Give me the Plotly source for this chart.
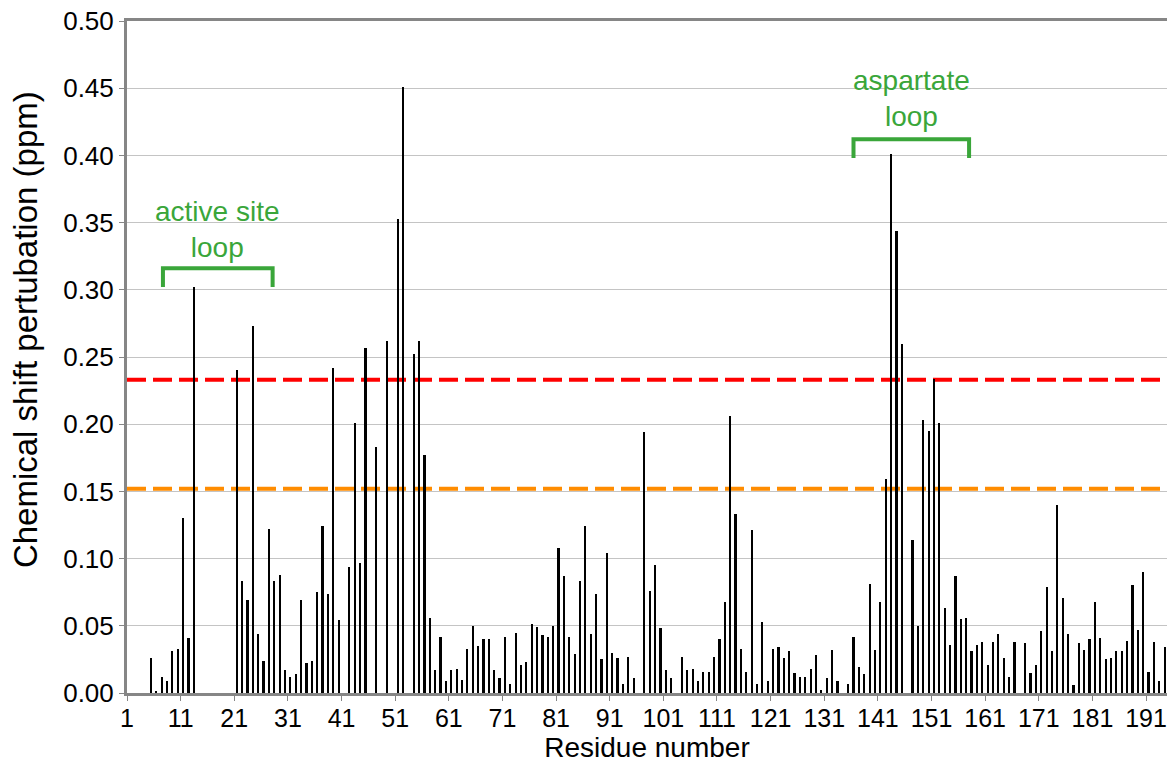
import plotly.graph_objects as go

# ---- data ----
residues = [5, 6, 7, 8, 9, 10, 11, 12, 13,
            21, 22, 23, 24, 25, 26, 27, 28, 29, 30, 31, 32, 33, 34, 35, 36, 37, 38, 39, 40,
            42, 43, 44, 45, 47, 49, 51, 52, 54, 55, 56, 57, 58, 59, 60,
            61, 62, 63, 64, 65, 66, 67, 68, 69, 70, 71, 72, 73, 74, 75, 76, 77, 78, 79, 80,
            81, 82, 83, 84, 85, 86, 87, 88, 89, 90, 91, 92, 93, 94, 95, 97, 98, 99, 100,
            101, 102, 104, 105, 106, 107, 108, 109, 110, 111, 112, 113, 114, 115, 116, 117, 118, 119, 120,
            121, 122, 123, 124, 125, 126, 127, 128, 129, 130, 131, 132, 133, 135, 136, 137, 138, 139, 140,
            141, 142, 143, 144, 145, 147, 148, 149, 150, 151, 152, 153, 154, 155, 156, 157, 158, 159, 160,
            161, 162, 163, 164, 165, 166, 168, 169, 170, 171, 172, 173, 174, 175, 176, 177, 178, 179, 180,
            181, 182, 183, 184, 185, 186, 187, 188, 189, 190, 191, 192, 193, 194]
shifts = [0.026, 0.001, 0.012, 0.009, 0.031, 0.033, 0.130, 0.041, 0.302,
          0.240, 0.083, 0.069, 0.273, 0.044, 0.024, 0.122, 0.083, 0.088, 0.017, 0.012, 0.014, 0.069, 0.022, 0.024, 0.075, 0.124, 0.074, 0.242, 0.054,
          0.094, 0.201, 0.097, 0.257, 0.183, 0.262, 0.353, 0.451, 0.252, 0.262, 0.177, 0.056, 0.017, 0.042, 0.009,
          0.017, 0.018, 0.010, 0.033, 0.050, 0.035, 0.040, 0.040, 0.017, 0.011, 0.042, 0.007, 0.045, 0.021, 0.023, 0.051, 0.049, 0.043, 0.042, 0.050,
          0.108, 0.087, 0.042, 0.029, 0.083, 0.124, 0.044, 0.074, 0.025, 0.104, 0.030, 0.026, 0.007, 0.027, 0.011, 0.194, 0.076, 0.095, 0.048,
          0.017, 0.011, 0.027, 0.017, 0.018, 0.009, 0.016, 0.016, 0.027, 0.040, 0.068, 0.206, 0.133, 0.033, 0.016, 0.121, 0.007, 0.053, 0.009,
          0.033, 0.034, 0.026, 0.031, 0.015, 0.012, 0.012, 0.018, 0.028, 0.002, 0.011, 0.032, 0.009, 0.007, 0.042, 0.019, 0.014, 0.081, 0.032,
          0.068, 0.159, 0.401, 0.344, 0.260, 0.114, 0.050, 0.203, 0.195, 0.234, 0.201, 0.063, 0.036, 0.087, 0.055, 0.056, 0.031, 0.036, 0.038,
          0.021, 0.038, 0.044, 0.026, 0.012, 0.038, 0.037, 0.015, 0.021, 0.046, 0.079, 0.031, 0.140, 0.071, 0.044, 0.006, 0.037, 0.032, 0.040,
          0.068, 0.041, 0.025, 0.026, 0.031, 0.031, 0.039, 0.080, 0.047, 0.090, 0.016, 0.038, 0.009, 0.034]

threshold_high = 0.233   # red dashed
threshold_low = 0.152    # orange dashed

tick_labels = [str(v) for v in range(1, 192, 10)]
tick_positions = [v - 0.5 for v in range(1, 192, 10)]
y_ticks = [round(i * 0.05, 2) for i in range(11)]

x_title = "Residue number"
y_title = "Chemical shift pertubation (ppm)"

regions = [
    # label, start, end, bracket top, bracket foot, text y
    ("active site<br>loop", 7.2, 27.65, 0.316, 0.302, 0.345),
    ("aspartate<br>loop", 135.95, 157.5, 0.412, 0.398, 0.442),
]

FONT = "Liberation Sans, Arial, sans-serif"
GREEN = "#3aa63a"

fig = go.Figure()
fig.add_trace(go.Bar(x=residues, y=shifts, width=0.32,
                     marker=dict(color="black", line=dict(width=0)),
                     showlegend=False, hoverinfo="skip"))

for yv, col in [(threshold_high, "#ff0000"), (threshold_low, "#ff8c00")]:
    fig.add_shape(type="line", xref="paper", yref="y", x0=0, x1=1, y0=yv, y1=yv,
                  line=dict(color=col, width=4, dash="19px,7px"), layer="between")

for label, x0, x1, ytop, yfoot, ytext in regions:
    fig.add_shape(type="path", xref="x", yref="y",
                  path=f"M {x0},{yfoot} L {x0},{ytop} L {x1},{ytop} L {x1},{yfoot}",
                  line=dict(color=GREEN, width=4), layer="above")
    fig.add_annotation(x=(x0 + x1) / 2, y=ytext, xref="x", yref="y", text=label,
                       showarrow=False, font=dict(family=FONT, size=28, color=GREEN),
                       xanchor="center", yanchor="middle", align="center")

# y axis title (placed slightly above the plot centre, as in the reference)
fig.add_annotation(x=0, y=0.54, xref="paper", yref="paper", xshift=-102,
                   text=y_title, textangle=-90, showarrow=False,
                   font=dict(family=FONT, size=33, color="black"),
                   xanchor="center", yanchor="middle")

fig.update_layout(
    width=1167, height=766,
    margin=dict(l=127, r=0, t=21, b=73),
    plot_bgcolor="white", paper_bgcolor="white",
    font=dict(family=FONT, size=24, color="black"),
    bargap=0,
)
fig.update_xaxes(range=[0.5, 194.4], tickmode="array", tickvals=tick_positions, ticktext=tick_labels,
                 showgrid=False, showline=True, linecolor="#868686", linewidth=3, mirror=True,
                 ticks="outside", ticklen=5, tickcolor="#868686", tickwidth=1,
                 tickfont=dict(size=25), zeroline=False, automargin=False,
                 ticklabelstandoff=-4, ticklabeloverflow="allow",
                 title=dict(text=x_title, font=dict(size=28), standoff=4))
fig.update_yaxes(range=[0, 0.5], tickmode="array", tickvals=y_ticks, tickformat=".2f",
                 showgrid=True, gridcolor="#c4c4c4", gridwidth=1,
                 showline=True, linecolor="#868686", linewidth=3,
                 ticks="outside", ticklen=5, tickcolor="#868686", tickwidth=1,
                 tickfont=dict(size=26), zeroline=False, automargin=False,
                 ticklabeloverflow="allow")

# remove the page's default 8px body margin so the figure fills the window exactly
fig.write_html("out.html", config={"displayModeBar": False},
               post_script="document.body.style.margin='0';document.body.style.overflow='hidden';")
